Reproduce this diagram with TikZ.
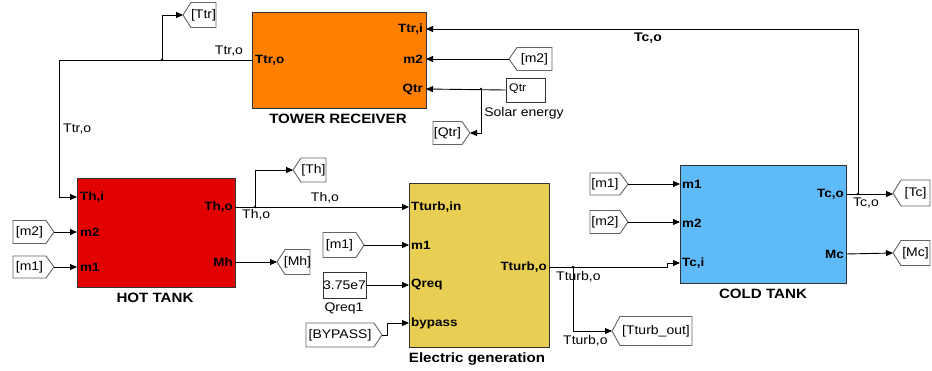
\documentclass[tikz,border=0pt]{standalone}
\usepackage{fontspec}
\setmainfont{Liberation Sans}[FakeStretch=1.12]
\usetikzlibrary{arrows.meta}
\definecolor{towerc}{RGB}{255,128,0}
\definecolor{hotc}{RGB}{226,0,0}
\definecolor{genc}{RGB}{232,206,82}
\definecolor{coldc}{RGB}{94,186,248}
\definecolor{edgec}{RGB}{50,50,50}
\definecolor{tagedge}{RGB}{100,100,100}
\tikzset{
  blk/.style={draw=edgec, line width=1pt, anchor=north west, inner sep=0pt},
  wire/.style={line width=0.9pt, draw=black},
  arr/.style={wire, -{Triangle[length=7pt,width=6pt]}},
  tagb/.style={draw=tagedge, line width=0.9pt, fill=white},
  tagt/.style={font=\fontsize{12.5}{14}\selectfont, inner sep=0pt},
  port/.style={font=\fontsize{12}{14}\selectfont\bfseries, inner sep=0pt},
  wlab/.style={font=\fontsize{12.5}{14}\selectfont, inner sep=0pt},
  blab/.style={font=\fontsize{13.5}{15}\selectfont\bfseries, inner sep=0pt},
  cblk/.style={draw=edgec, line width=0.9pt, fill=white, inner sep=0pt},
}
% tag with tip on the right: name, xleft, xtip, yc, halfh, text
\newcommand\mytagR[6]{%
  \draw[tagb] (#2,#4-#5) -- ({#3-8},#4-#5) -- (#3,#4) -- ({#3-8},#4+#5) -- (#2,#4+#5) -- cycle;
  \node[tagt] (#1) at ({(#2+#3-8)/2},#4) {#6};
  \coordinate (#1t) at (#3,#4);}
% tag with tip on the left: name, xtip, xright, yc, halfh, text
\newcommand\mytagL[6]{%
  \draw[tagb] (#2,#4) -- ({#2+8},#4-#5) -- (#3,#4-#5) -- (#3,#4+#5) -- ({#2+8},#4+#5) -- cycle;
  \node[tagt] (#1) at ({(#2+8+#3)/2},#4) {#6};
  \coordinate (#1t) at (#2,#4);}
\begin{document}
\begin{tikzpicture}[x=1pt,y=-1pt]
\useasboundingbox (0,0) rectangle (932,370);
% blocks
\node[blk, fill=towerc, minimum width=174pt, minimum height=96pt] (tower) at (252,12) {};
\node[blk, fill=hotc, minimum width=158pt, minimum height=109pt] (hot) at (77,178) {};
\node[blk, fill=genc, minimum width=140pt, minimum height=164pt] (gen) at (409,183) {};
\node[blk, fill=coldc, minimum width=166pt, minimum height=118pt] (cold) at (680,165) {};
\node[blab] (ltower) at (338,119) {TOWER RECEIVER};
\node[blab] (lhot) at (155,298) {HOT TANK};
\node[blab] (lgen) at (477,359) {Electric generation};
\node[blab] (lcold) at (763,294) {COLD TANK};
% port coordinates
\coordinate (trO) at (252,60); \coordinate (trI) at (426,29);
\coordinate (trM2) at (426,59); \coordinate (trQ) at (426,89);
\coordinate (hI) at (77,197); \coordinate (hM2) at (77,232); \coordinate (hM1) at (77,267);
\coordinate (hO) at (235,207); \coordinate (hMh) at (235,262);
\coordinate (gIn) at (409,207); \coordinate (gM1) at (409,245); \coordinate (gQ) at (409,285);
\coordinate (gB) at (409,323); \coordinate (gO) at (549,267);
\coordinate (cM1) at (680,184); \coordinate (cM2) at (680,222); \coordinate (cTi) at (680,263);
\coordinate (cTo) at (846,194); \coordinate (cMc) at (846,254);
% port labels
\node[port, anchor=west] (p1) at (255,60) {Ttr,o};
\node[port, anchor=east] (p2) at (423,29) {Ttr,i};
\node[port, anchor=east] (p3) at (423,59) {m2};
\node[port, anchor=east] (p4) at (423,89) {Qtr};
\node[port, anchor=west] (p5) at (80,197) {Th,i};
\node[port, anchor=west] (p6) at (80,232) {m2};
\node[port, anchor=west] (p7) at (80,267) {m1};
\node[port, anchor=east] (p8) at (233,207) {Th,o};
\node[port, anchor=east] (p9) at (233,262) {Mh};
\node[port, anchor=west] (p10) at (411,207) {Tturb,in};
\node[port, anchor=west] (p11) at (411,245) {m1};
\node[port, anchor=west] (p12) at (411,285) {Qreq};
\node[port, anchor=west] (p13) at (411,323) {bypass};
\node[port, anchor=east] (p14) at (547,267) {Tturb,o};
\node[port, anchor=west] (p15) at (682,184) {m1};
\node[port, anchor=west] (p16) at (682,223) {m2};
\node[port, anchor=west] (p17) at (682,263) {Tc,i};
\node[port, anchor=east] (p18) at (844,194) {Tc,o};
\node[port, anchor=east] (p19) at (844,254) {Mc};
% constant blocks
\node[cblk, minimum width=39pt, minimum height=24pt] (cQ) at (525.5,90) {};
\node[font=\fontsize{11}{13}\selectfont, inner sep=0pt, anchor=west] (cQt) at (509,89) {Qtr};
\node[wlab] (lsolar) at (524,113) {Solar energy};
\node[cblk, minimum width=43pt, minimum height=26pt, font=\fontsize{12.5}{14}\selectfont] (cR) at (344.5,285) {3.75e7};
\node[wlab] (lqreq) at (344,308) {Qreq1};
% tags
\mytagL{tTtr}{183}{216}{15}{12.5}{[Ttr]}
\mytagL{tm2a}{509}{552}{59}{11.5}{[m2]}
\mytagR{tQtr}{433}{470}{133}{11.5}{[Qtr]}
\mytagL{tTh}{293}{326}{170}{12}{[Th]}
\mytagL{tMh}{277}{310}{262}{12.5}{[Mh]}
\mytagR{tm2h}{13}{54}{232}{11.5}{[m2]}
\mytagR{tm1h}{13}{54}{267}{11}{[m1]}
\mytagR{tm1e}{323}{364}{245}{12.5}{[m1]}
\mytagR{tBYP}{306}{382}{335}{12}{[BYPASS]}
\mytagR{tm1c}{590}{628}{184}{11}{[m1]}
\mytagR{tm2c}{590}{628}{222}{11.5}{[m2]}
\mytagL{tTc}{893}{930}{193}{13}{[Tc]}
\mytagL{tMc}{893}{930}{253}{12.5}{[Mc]}
\mytagL{tTout}{612}{692}{331}{14.5}{[Tturb\_out]}
% branch and corner coordinates
\coordinate (b1) at (162,60); \coordinate (b2) at (481,89); \coordinate (b3) at (255,207);
\coordinate (b4) at (573,267); \coordinate (b5) at (858,194);
\coordinate (k1) at (59,60); \coordinate (k3) at (667,267); \coordinate (k4) at (667,263);
\coordinate (k5) at (387,335);
% connectors
\draw[arr] (trO) -- (k1) |- (hI);
\draw[arr] (b1) |- (tTtrt);
\draw[arr] (cQ.west) -- (trQ);
\draw[arr] (b2) |- (tQtrt);
\draw[arr] (tm2at) -- (trM2);
\draw[arr] (b5) |- (trI);
\draw[arr] (tm2ht) -- (hM2);
\draw[arr] (tm1ht) -- (hM1);
\draw[arr] (hO) -- (gIn);
\draw[arr] (b3) |- (tTht);
\draw[arr] (hMh) -- (tMht);
\draw[arr] (tm1et) -- (gM1);
\draw[arr] (cR.east) -- (gQ);
\draw[arr] (tBYPt) -- (k5) |- (gB);
\draw[arr] (gO) -- (k3) -- (k4) -- (cTi);
\draw[arr] (b4) |- (tToutt);
\draw[arr] (tm1ct) -- (cM1);
\draw[arr] (tm2ct) -- (cM2);
\draw[arr] (cTo) -- (tTct |- cTo);
\draw[arr] (cMc) -- (tMct);
\foreach \p in {b1,b2,b3,b4,b5} \fill (\p) circle (1.3);
% wire labels
\node[wlab] (w1) at (229,51) {Ttr,o};
\node[wlab, anchor=west] (w2) at (63,129) {Ttr,o};
\node[wlab] (w3) at (325,198) {Th,o};
\node[wlab, anchor=west] (w4) at (242,215) {Th,o};
\node[wlab, anchor=west] (w5) at (556,277) {Tturb,o};
\node[wlab, anchor=west] (w6) at (563,341) {Tturb,o};
\node[wlab, font=\fontsize{12.5}{14}\selectfont\bfseries] (w7) at (648,38) {Tc,o};
\node[wlab] (w8) at (866,203) {Tc,o};
\end{tikzpicture}
\end{document}
